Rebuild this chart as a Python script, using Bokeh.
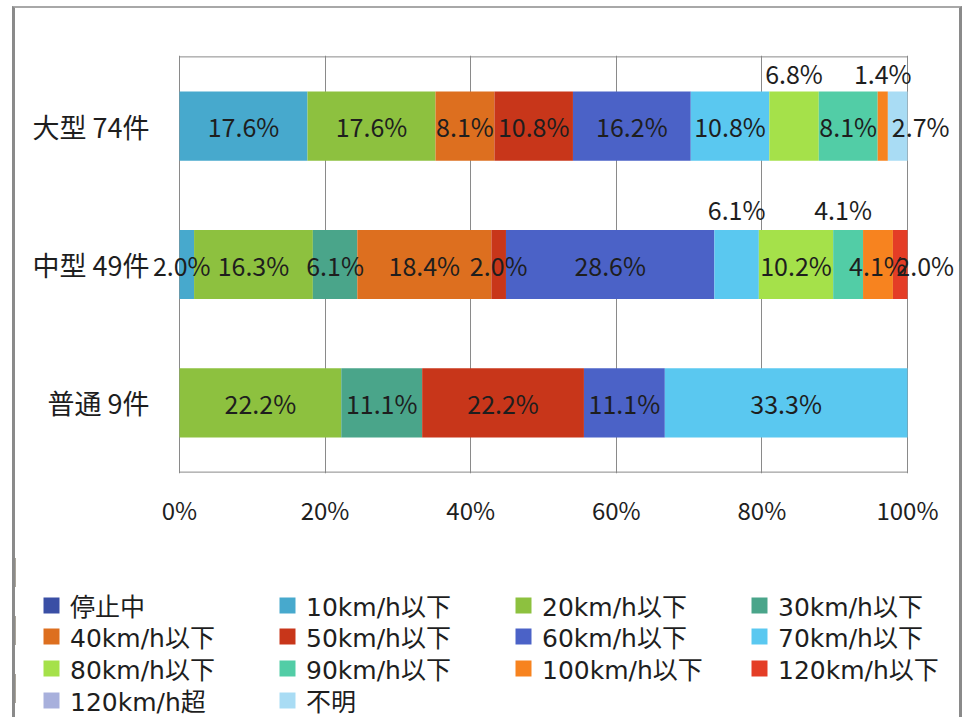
from bokeh.plotting import figure
from bokeh.layouts import column
from bokeh.models import (ColumnDataSource, FactorRange, Range1d, LabelSet, Legend, LegendItem,
                          NumeralTickFormatter, FixedTicker)
from bokeh.core.properties import value
from bokeh.embed import file_html
from bokeh.resources import INLINE

# ---------------- data ----------------
categories = ["大型 74件", "中型 49件", "普通 9件"]
series = ["停止中", "10km/h以下", "20km/h以下", "30km/h以下",
          "40km/h以下", "50km/h以下", "60km/h以下", "70km/h以下",
          "80km/h以下", "90km/h以下", "100km/h以下", "120km/h以下",
          "120km/h超", "不明"]
large = [0, 17.6, 17.6, 0, 8.1, 10.8, 16.2, 10.8, 6.8, 8.1, 1.4, 0, 0, 2.7]
medium = [0, 2.0, 16.3, 6.1, 18.4, 2.0, 28.6, 6.1, 10.2, 4.1, 4.1, 2.0, 0, 0]
regular = [0, 0, 22.2, 11.1, 0, 22.2, 11.1, 33.3, 0, 0, 0, 0, 0, 0]
x_ticks = [0, 0.2, 0.4, 0.6, 0.8, 1.0]

# ---------------- style ----------------
colors = ["#3A4FA5", "#47A9CD", "#8DC13F", "#4AA58A",
          "#DD6F1F", "#C8361A", "#4B62C7", "#5AC8F0",
          "#A5E14A", "#52CDA6", "#F7831F", "#E43D26",
          "#A8B0DC", "#A9DCF4"]
FONT = "Noto Sans CJK JP"
LEG_FONT = "DejaVu Sans, Noto Sans CJK JP"
TXT = "#1e1e1e"
GRID = "#8a8a8a"
# manual label nudges (screen px): (dx, dy up)
label_nudge = {
    ("大型 74件", "80km/h以下"): (0, 53),
    ("大型 74件", "100km/h以下"): (0, 53),
    ("大型 74件", "不明"): (23, 0),
    ("中型 49件", "10km/h以下"): (-5, 0),
    ("中型 49件", "70km/h以下"): (0, 56),
    ("中型 49件", "90km/h以下"): (-5, 56),
    ("中型 49件", "120km/h以下"): (25, 0),
}

rows = [large, medium, regular]
keys = [f"s{i}" for i in range(len(series))]
data = {"cat": categories}
for i, k in enumerate(keys):
    data[k] = [r[i] / sum(r) for r in rows]
source = ColumnDataSource(data)

lx, ly, lt, ldx, ldy = [], [], [], [], []
for cat, r in zip(categories, rows):
    tot = sum(r)
    acc = 0.0
    for s, v in zip(series, r):
        if v > 0:
            lx.append((acc + v / 2) / tot)
            ly.append(cat)
            lt.append(f"{v:.1f}%")
            dx, dy = label_nudge.get((cat, s), (0, 0))
            ldx.append(dx)
            ldy.append(dy)
        acc += v
lsource = ColumnDataSource(dict(x=lx, y=ly, text=lt, dx=ldx, dy=ldy))

# ---------------- main chart ----------------
W = 944
x_lo = -29 / 728
x_hi = 1 + 49 / 728
yr = FactorRange(*categories[::-1])
yr.range_padding = 0.01
yr.range_padding_units = "absolute"

p = figure(width=W, height=535, y_range=yr, x_range=Range1d(x_lo, x_hi),
           output_backend="svg", toolbar_location=None,
           min_border_left=135, min_border_right=3, min_border_top=47,
           min_border_bottom=70)

renderers = p.hbar_stack(keys, y="cat", height=0.5, color=colors, source=source,
                         line_color=None)

# plot-area box: top and bottom edges between 0% and 100%
box_src = ColumnDataSource(dict(
    x0=[x_ticks[0], x_ticks[0]], x1=[x_ticks[-1], x_ticks[-1]],
    y0=[(categories[0], 0.5), (categories[-1], -0.5)],
    y1=[(categories[0], 0.5), (categories[-1], -0.5)]))
p.segment(x0="x0", y0="y0", x1="x1", y1="y1", source=box_src,
          line_color=GRID, line_width=1)

labels = LabelSet(x="x", y="y", text="text", source=lsource,
                  x_offset="dx", y_offset="dy",
                  text_align="center", text_baseline="middle",
                  text_font=value(FONT), text_font_size="25px", text_color=TXT)
p.add_layout(labels)

p.xaxis.ticker = FixedTicker(ticks=x_ticks)
p.xaxis.formatter = NumeralTickFormatter(format="0%")
for ax in (p.xaxis[0], p.yaxis[0]):
    ax.axis_line_color = None
    ax.major_tick_line_color = None
    ax.minor_tick_line_color = None
    ax.major_tick_out = 0
    ax.major_tick_in = 0
    ax.major_label_text_font = FONT
    ax.major_label_text_color = TXT
p.xaxis.major_label_text_font_size = "24px"
p.xaxis.major_label_standoff = 18
p.yaxis.major_label_text_font_size = "27px"
p.yaxis.major_label_standoff = 1

p.xgrid.ticker = FixedTicker(ticks=x_ticks)
p.xgrid.grid_line_color = GRID
p.ygrid.grid_line_color = None
p.outline_line_color = None

# ---------------- legend panel ----------------
# same series drawn into an off-view range, used only as legend entries
q = figure(width=W, height=174, x_range=Range1d(2, 3),
           y_range=FactorRange(*categories[::-1]),
           output_backend="svg", toolbar_location=None,
           min_border_left=0, min_border_right=0, min_border_top=0, min_border_bottom=0)
q.axis.visible = False
q.grid.visible = False
q.outline_line_color = None
proxies = q.hbar_stack(keys, y="cat", height=0.5, color=colors, source=source,
                       line_color=None)
for fig in (p, q):
    try:
        fig.frame_align = False
    except Exception:
        pass

# one legend per row (4 entries per row), rows ~32px apart
row_bottoms = [94, 63, 31, -1]
for r_i, yb in enumerate(row_bottoms):
    sl = slice(4 * r_i, 4 * r_i + 4)
    items = [LegendItem(label=s, renderers=[r])
             for s, r in zip(series[sl], proxies[sl])]
    leg = Legend(items=items, location=(26, yb), orientation="horizontal",
                 label_text_font=LEG_FONT, label_text_font_size="25px",
                 label_text_color=TXT, glyph_width=20, glyph_height=20,
                 label_width=204, label_height=24, label_standoff=9, spacing=3,
                 padding=0, margin=0, border_line_color=None,
                 background_fill_alpha=0)
    q.add_layout(leg, "center")

layout = column(p, q, spacing=0, margin=(6, 0, 0, 12),
                styles={"border-left": "3px solid #8a8a8a",
                        "border-right": "3px solid #8a8a8a",
                        "border-top": "2px solid #a8a8a8"})

open("out.html", "w").write(file_html(layout, INLINE))
